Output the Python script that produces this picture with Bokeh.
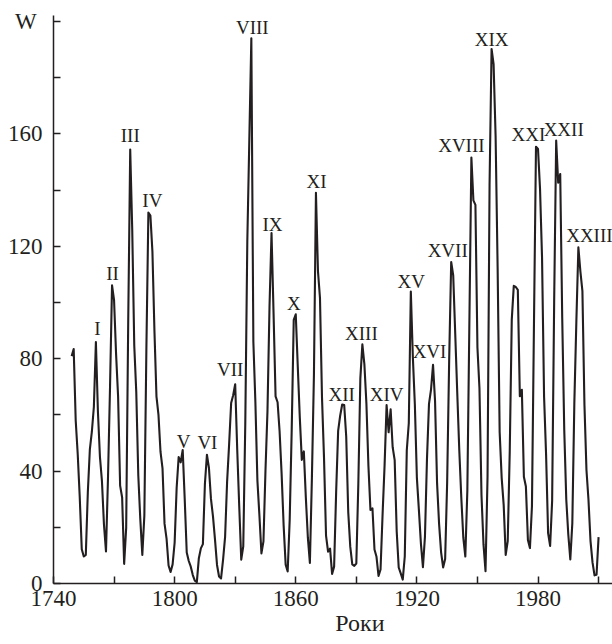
from bokeh.plotting import figure
from bokeh.models import Range1d, FixedTicker, ColumnDataSource
from bokeh.core.properties import value
from bokeh.embed import file_html
from bokeh.resources import INLINE

# ---- data (yearly sunspot number W) ----
START_YEAR = 1749
W_VALUES = [
    80.9, 83.4, 58.0, 46.0, 30.7, 12.2, 9.6, 10.2, 32.4, 47.6,          # 1749-1758
    54.0, 62.9, 85.9, 61.2, 45.1, 36.4, 20.9, 11.4, 37.8, 69.8,          # 1759-1768
    106.1, 100.8, 81.6, 66.5, 34.8, 30.6, 7.0, 19.8, 92.5, 154.4,        # 1769-1778
    125.9, 84.8, 68.1, 38.5, 22.8, 10.2, 24.1, 82.9, 132.0, 130.9,       # 1779-1788
    118.1, 89.9, 66.6, 60.0, 46.9, 41.0, 21.3, 16.0, 6.4, 4.1,           # 1789-1798
    6.8, 14.5, 34.0, 45.0, 43.1, 47.5, 30.0, 11.0, 8.0, 6.0,             # 1799-1808
    3.0, 1.0, 0.5, 9.0, 12.5, 14.0, 35.4, 45.8, 41.1, 30.1,              # 1809-1818
    23.9, 15.6, 6.6, 2.5, 1.8, 8.5, 16.6, 36.3, 49.6, 64.2,              # 1819-1828
    67.0, 70.9, 47.8, 27.5, 8.5, 13.2, 56.9, 121.5, 158.0, 194.0,        # 1829-1838
    86.0, 64.6, 36.7, 24.2, 10.7, 15.0, 40.1, 61.5, 98.5, 124.7,         # 1839-1848
    96.3, 66.6, 64.5, 54.1, 39.0, 20.6, 6.7, 4.3, 22.7, 54.8,            # 1849-1858
    93.8, 95.8, 77.2, 59.1, 44.0, 47.0, 30.5, 16.3, 7.3, 37.6,           # 1859-1868
    74.0, 139.0, 111.2, 101.6, 66.2, 44.7, 17.0, 11.3, 12.4, 3.4,        # 1869-1878
    6.0, 32.3, 54.3, 59.7, 63.7, 63.5, 52.2, 25.4, 13.1, 6.8,            # 1879-1888
    6.3, 7.1, 35.6, 73.0, 85.1, 78.0, 64.0, 41.8, 26.2, 26.7,            # 1889-1898
    12.1, 9.5, 2.7, 5.0, 24.4, 42.0, 63.5, 53.8, 62.0, 48.5,             # 1899-1908
    43.9, 18.6, 5.7, 3.6, 1.4, 9.6, 47.4, 57.1, 103.9, 80.6,             # 1909-1918
    63.6, 37.6, 26.1, 14.2, 5.8, 16.7, 44.3, 63.9, 69.0, 77.8,           # 1919-1928
    64.9, 35.7, 21.2, 11.1, 5.7, 8.7, 36.1, 79.7, 114.4, 109.6,          # 1929-1938
    88.8, 67.8, 47.5, 30.6, 16.3, 9.6, 33.2, 92.6, 151.6, 136.3,         # 1939-1948
    134.7, 83.9, 69.4, 31.5, 13.9, 4.4, 38.0, 141.7, 190.2, 184.8,       # 1949-1958
    159.0, 112.3, 53.9, 37.6, 27.9, 10.2, 15.1, 47.0, 93.8, 105.9,       # 1959-1968
    105.5, 104.5, 66.6, 68.9, 38.0, 34.5, 15.5, 12.6, 27.5, 92.5,        # 1969-1978
    155.4, 154.6, 140.4, 115.9, 66.6, 45.9, 17.9, 13.4, 29.4, 100.2,     # 1979-1988
    157.6, 142.6, 145.7, 94.3, 54.6, 29.9, 17.5, 8.6, 21.5, 64.3,        # 1989-1998
    93.3, 119.6, 111.0, 104.0, 63.7, 40.4, 29.8, 15.2, 7.5, 2.9,         # 1999-2008
    3.1, 16.5,                                                           # 2009-2010
]
YEARS = list(range(START_YEAR, START_YEAR + len(W_VALUES)))

CYCLE_NAMES = ["I", "II", "III", "IV", "V", "VI", "VII", "VIII", "IX", "X", "XI",
               "XII", "XIII", "XIV", "XV", "XVI", "XVII", "XVIII", "XIX", "XXI",
               "XXII", "XXIII"]
CYCLE_PEAK_YEARS = [1761, 1769, 1778, 1787, 1804, 1816, 1830, 1838, 1848, 1860, 1870,
                    1883, 1893, 1905, 1917, 1928, 1937, 1947, 1957, 1979, 1989, 2000]

X_TICKS = [1740, 1800, 1860, 1920, 1980]
X_MINOR_TICKS = [1770, 1830, 1890, 1950, 2010]
Y_TICKS = [0, 40, 80, 120, 160, 200]
Y_MINOR_TICKS = [20, 60, 100, 140, 180]

X_LABEL = "Роки"
Y_LABEL = "W"

# ---- label placement (style, pixels) ----
LABEL_DX = [1.5, 0.5, 0, 4, 1, 0.5, -5, 1, 1, -2, 0.5,
            -0.5, -1, 0, 0.5, -3.5, -3.5, -10, 0, -7.5, 7.5, 11]
LABEL_DY = [14, 12, 14, 12, 9, 12, 15, 11, 9, 11, 11,
            10, 11, 11, 10, 13, 11, 12, 9, 12, 11, 12]

INK = "#231f20"
SERIF = "Liberation Serif"
NBSP = "\u00a0"

peak_vals = [W_VALUES[y - START_YEAR] for y in CYCLE_PEAK_YEARS]

p = figure(width=612, height=644, output_backend="svg", toolbar_location=None,
           x_range=Range1d(1740, 2016.9), y_range=Range1d(0, 202.1),
           min_border_left=53, min_border_right=0, min_border_top=15,
           min_border_bottom=61)
p.background_fill_color = "white"
p.border_fill_color = "white"
p.outline_line_color = None
p.xgrid.visible = False
p.ygrid.visible = False

p.line(YEARS, W_VALUES, line_color=INK, line_width=2.1, line_join="round")

src = ColumnDataSource(dict(x=CYCLE_PEAK_YEARS, y=peak_vals, t=CYCLE_NAMES,
                            dx=LABEL_DX, dy=[-d for d in LABEL_DY]))
p.text(x="x", y="y", text="t", source=src, x_offset="dx", y_offset="dy",
       text_align="center", text_baseline="middle", text_color=INK,
       text_font=value(SERIF), text_font_size=value("19px"))

for ax in (p.xaxis[0], p.yaxis[0]):
    ax.axis_line_color = INK
    ax.axis_line_width = 1.5
    ax.major_tick_line_color = INK
    ax.major_tick_line_width = 1.5
    ax.minor_tick_line_color = INK
    ax.minor_tick_line_width = 1.5
    ax.major_tick_in = 7
    ax.major_tick_out = 0
    ax.minor_tick_in = 7
    ax.minor_tick_out = 0
    ax.major_label_text_font = SERIF
    ax.major_label_text_font_size = "23px"
    ax.major_label_text_color = INK

xa = p.xaxis[0]
xa.ticker = FixedTicker(ticks=X_TICKS, minor_ticks=X_MINOR_TICKS)
xa.major_label_standoff = 7
# axis title, nudged right of the frame centre as in the original
xa.axis_label = NBSP * 9 + X_LABEL
xa.axis_label_standoff = 1
xa.axis_label_text_font = SERIF
xa.axis_label_text_font_style = "normal"
xa.axis_label_text_font_size = "24px"
xa.axis_label_text_color = INK

ya = p.yaxis[0]
ya.ticker = FixedTicker(ticks=Y_TICKS, minor_ticks=Y_MINOR_TICKS)
ya.major_label_standoff = 11
# the quantity symbol sits at the top of the axis, in place of the 200 label
ya.major_label_overrides = {200: Y_LABEL + NBSP}

open("out.html", "w").write(file_html(p, INLINE))
